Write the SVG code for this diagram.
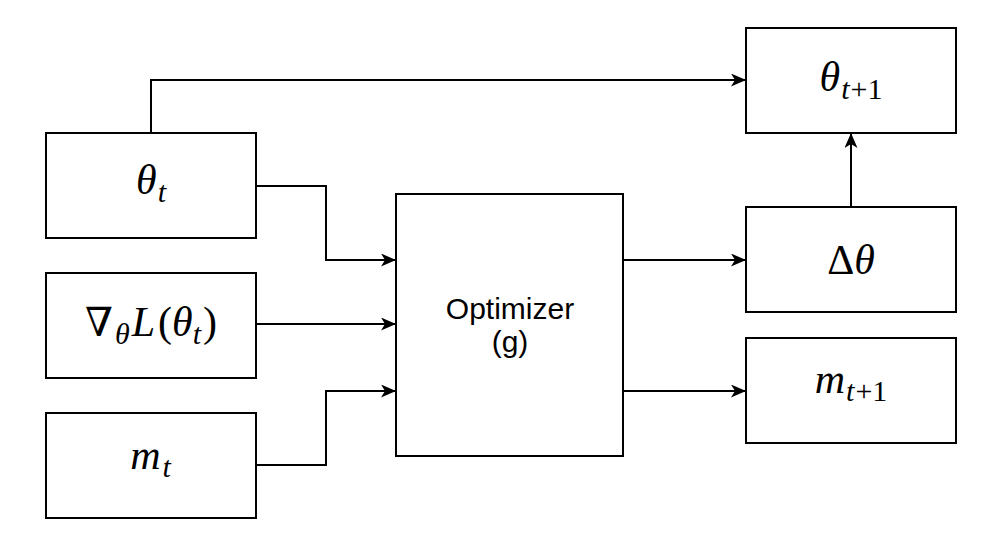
<svg xmlns="http://www.w3.org/2000/svg" width="999" height="556" viewBox="0 0 999 556">
<style>
.box{fill:#fff;stroke:#000;stroke-width:2}
.edge{fill:none;stroke:#000;stroke-width:2}
.math{font-family:"Liberation Serif","DejaVu Serif",serif;font-style:italic;font-size:42px;fill:#000;text-anchor:middle}
.up{font-style:normal}
.sub{font-size:30px}
.nabla{font-family:"DejaVu Serif",serif;font-style:normal;font-weight:200;font-size:40px}
.lbl{font-family:"Liberation Sans",Arial,sans-serif;font-size:30px;fill:#000;text-anchor:middle}
</style>
<defs>
<marker id="arr" viewBox="0 0 15 13" refX="14" refY="6.5" markerWidth="15" markerHeight="13" markerUnits="userSpaceOnUse" orient="auto">
<path d="M0,0 L15,6.5 L0,13 L4,6.5 Z" fill="#000"/>
</marker>
</defs>
<g id="connectors">
<path class="edge" d="M151,133 V80 H745" marker-end="url(#arr)"/>
<path class="edge" d="M256,186 H326 V260 H395" marker-end="url(#arr)"/>
<path class="edge" d="M256,324 H395" marker-end="url(#arr)"/>
<path class="edge" d="M256,465 H326 V391 H395" marker-end="url(#arr)"/>
<path class="edge" d="M623,260 H745" marker-end="url(#arr)"/>
<path class="edge" d="M623,391 H745" marker-end="url(#arr)"/>
<path class="edge" d="M851,207 V134" marker-end="url(#arr)"/>
</g>
<g id="theta_t">
<rect class="box" x="46" y="133" width="210" height="105"/>
<text class="math" x="151" y="194">θ<tspan class="sub" dx="1" dy="8">t</tspan></text>
</g>
<g id="grad">
<rect class="box" x="46" y="273" width="210" height="105"/>
<text class="math" x="151" y="336"><tspan class="nabla">∇</tspan><tspan class="sub" dx="2" dy="8">θ</tspan><tspan dx="2" dy="-8">L</tspan><tspan class="up" dx="3">(</tspan>θ<tspan class="sub" dy="8">t</tspan><tspan class="up" dx="2" dy="-8">)</tspan></text>
</g>
<g id="m_t">
<rect class="box" x="46" y="413" width="210" height="105"/>
<text class="math" x="151" y="469" letter-spacing="1">m<tspan class="sub" dx="1" dy="8">t</tspan></text>
</g>
<g id="optimizer">
<rect class="box" x="396" y="194" width="227" height="262"/>
<text class="lbl" x="510" y="319">Optimizer</text>
<text class="lbl" x="510" y="352">(g)</text>
</g>
<g id="theta_t1">
<rect class="box" x="746" y="28" width="210" height="105"/>
<text class="math" x="851" y="91">θ<tspan class="sub" dx="1" dy="8">t</tspan><tspan class="sub up" dx="1">+1</tspan></text>
</g>
<g id="delta_theta">
<rect class="box" x="746" y="207" width="210" height="105"/>
<text class="math" x="851" y="274"><tspan class="up">Δ</tspan>θ</text>
</g>
<g id="m_t1">
<rect class="box" x="746" y="338" width="210" height="105"/>
<text class="math" x="851" y="393">m<tspan class="sub" dx="1" dy="8">t</tspan><tspan class="sub up" dx="1">+1</tspan></text>
</g>
</svg>
